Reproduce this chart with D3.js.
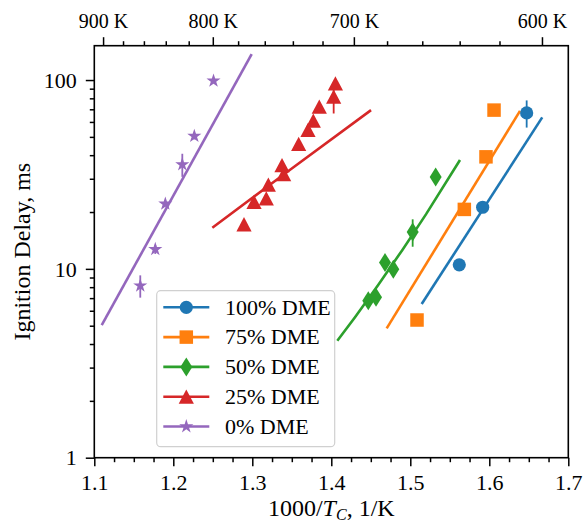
<!DOCTYPE html>
<html><head><meta charset="utf-8">
<script src="https://cdn.jsdelivr.net/npm/d3@7"></script>
<style>
body{margin:0;background:#fff}
text{font-family:"Liberation Serif","DejaVu Serif",serif;fill:#000}
</style>
</head><body>
<svg id="chart" width="583" height="527"></svg>
<script>
// ---------- data ----------
const seriesNames = ["100% DME", "75% DME", "50% DME", "25% DME", "0% DME"];
const seriesColors = ["#1f77b4", "#ff7f0e", "#2ca02c", "#d62728", "#9467bd"];
const seriesMarkers = ["circle", "square", "diamond", "triangle", "star"];

// measured ignition delays (x = 1000/Tc, y = ms, err = ms)
const dme100X = [1.5620, 1.5916, 1.6473];
const dme100Y = [10.5, 21.2, 67.0];
const dme100Err = [0, 0, 11];

const dme75X = [1.5085, 1.5684, 1.5958, 1.6060];
const dme75Y = [5.36, 20.65, 39.2, 69.3];
const dme75Err = [0, 0, 2, 2.5];

const dme50X = [1.4468, 1.4566, 1.4680, 1.4785, 1.5030, 1.5321];
const dme50Y = [6.78, 7.07, 10.8, 9.94, 15.7, 30.7];
const dme50Err = [0, 0, 0, 0, 2.6, 0];

const dme25X = [1.2895, 1.3022, 1.3177, 1.3203, 1.3376, 1.3397, 1.3587, 1.3705, 1.3772, 1.3848, 1.4030, 1.4052];
const dme25Y = [17.2, 22.6, 23.6, 27.9, 35.4, 31.7, 45.8, 54.3, 60.8, 72.1, 81.5, 95.9];
const dme25Err = [0, 0, 0, 0, 0, 0, 0, 0, 0, 0, 15, 0];

const dme0X = [1.1582, 1.1772, 1.1899, 1.2114, 1.2266, 1.2509];
const dme0Y = [8.14, 12.7, 22.1, 35.7, 50.5, 99.0];
const dme0Err = [1.1, 0.7, 0, 5, 2, 0];

// model predictions
const model100X = [1.5144, 1.6670];
const model100Y = [6.51, 63.4];
const model75X = [1.4701, 1.6389];
const model75Y = [4.84, 68.7];
const model50X = [1.4076, 1.43, 1.46, 1.49, 1.52, 1.5629];
const model50Y = [4.16, 5.55, 8.3, 12.6, 19.5, 37.7];
const model25X = [1.2494, 1.35, 1.4503];
const model25Y = [16.5, 34.0, 69.3];
const model0X = [1.1094, 1.2992];
const model0Y = [5.04, 137];

// axes ticks
const xTickValues = [1.1, 1.2, 1.3, 1.4, 1.5, 1.6, 1.7];
const yTickValues = [1, 10, 100];
const topMajorTemps = [900, 800, 700, 600];
const topMinorTemps = [880, 860, 840, 820, 780, 760, 740, 720, 680, 660, 640, 620];
const yLabel = "Ignition Delay, ms";

// ---------- layout ----------
const svg = d3.select("#chart");
const L = 94.3, R = 568.3, T = 45.7, B = 457.7;
const x = d3.scaleLinear().domain([1.1, 1.7]).range([L, R]);
const y = d3.scaleLog().domain([1, 152]).range([B, T]);
const tickFont = "22px", labelFont = "24px", topFont = "20px", legendFont = "22px";

const measured = [
  {x: dme100X, y: dme100Y, e: dme100Err},
  {x: dme75X, y: dme75Y, e: dme75Err},
  {x: dme50X, y: dme50Y, e: dme50Err},
  {x: dme25X, y: dme25Y, e: dme25Err},
  {x: dme0X, y: dme0Y, e: dme0Err}
];
const models = [
  {x: model100X, y: model100Y},
  {x: model75X, y: model75Y},
  {x: model50X, y: model50Y},
  {x: model25X, y: model25Y},
  {x: model0X, y: model0Y}
];

function markerPath(kind) {
  if (kind === "circle") return d3.symbol(d3.symbolCircle, Math.PI * 6.6 * 6.6)();
  if (kind === "square") return d3.symbol(d3.symbolSquare, 13.5 * 13.5)();
  if (kind === "star") return d3.symbol(d3.symbolStar, 62)();
  if (kind === "diamond") return "M0,-9.5L6,0L0,9.5L-6,0Z";
  if (kind === "triangle") return "M0,-7.3L7.6,7L-7.6,7Z";
}

const plot = svg.append("g");

// model lines
const line = d3.line().x(d => x(d[0])).y(d => y(d[1]));
models.forEach((m, i) => {
  plot.append("path")
    .datum(d3.zip(m.x, m.y))
    .attr("d", line)
    .attr("fill", "none")
    .attr("stroke", seriesColors[i])
    .attr("stroke-width", 2.6);
});

// error bars + markers
measured.forEach((s, i) => {
  const pts = d3.zip(s.x, s.y, s.e);
  plot.append("g").selectAll("line").data(pts.filter(p => p[2] > 0)).join("line")
    .attr("x1", d => x(d[0])).attr("x2", d => x(d[0]))
    .attr("y1", d => y(d[1] + d[2])).attr("y2", d => y(d[1] - d[2]))
    .attr("stroke", seriesColors[i]).attr("stroke-width", 1.8);
  plot.append("g").selectAll("path").data(pts).join("path")
    .attr("transform", d => `translate(${x(d[0])},${y(d[1])})`)
    .attr("d", markerPath(seriesMarkers[i]))
    .attr("fill", seriesColors[i]);
});

// ---------- axes ----------
const axisG = svg.append("g");
function styleAxis(size) {
  return g => {
    g.select(".domain").remove();
    g.selectAll("line").attr("stroke", "#000").attr("stroke-width", 1.5);
    g.selectAll("text").attr("font-size", size).attr("fill", "#000")
      .style("font-family", '"Liberation Serif", serif');
  };
}
// bottom
const xMinor = d3.range(1.1, 1.7001, 0.025).filter(v => Math.abs(v * 10 - Math.round(v * 10)) > 1e-6);
axisG.append("g").attr("transform", `translate(0,${B})`)
  .call(d3.axisBottom(x).tickValues(xMinor).tickSize(4.5).tickFormat(""))
  .call(styleAxis(tickFont));
axisG.append("g").attr("transform", `translate(0,${B})`)
  .call(d3.axisBottom(x).tickValues(xTickValues).tickSize(8.5).tickPadding(5).tickFormat(d3.format(".1f")))
  .call(styleAxis(tickFont))
  .call(g => g.selectAll("text").attr("dy", "0.85em"));
// left
const yMinor = [];
[1, 10, 100].forEach(dec => { for (let k = 2; k <= 9; k++) { const v = dec * k; if (v <= 152) yMinor.push(v); } });
axisG.append("g").attr("transform", `translate(${L},0)`)
  .call(d3.axisLeft(y).tickValues(yMinor).tickSize(4.5).tickFormat(""))
  .call(styleAxis(tickFont));
axisG.append("g").attr("transform", `translate(${L},0)`)
  .call(d3.axisLeft(y).tickValues(yTickValues).tickSize(8.5).tickPadding(9).tickFormat(d3.format("d")))
  .call(styleAxis(tickFont))
  .call(g => g.selectAll("text").attr("dy", "0.33em"));
// top (temperature)
axisG.append("g").attr("transform", `translate(0,${T})`)
  .call(d3.axisTop(x).tickValues(topMinorTemps.map(t => 1000 / t)).tickSize(4.5).tickFormat(""))
  .call(styleAxis(topFont));
axisG.append("g").attr("transform", `translate(0,${T})`)
  .call(d3.axisTop(x).tickValues(topMajorTemps.map(t => 1000 / t)).tickSize(8.5).tickPadding(9)
    .tickFormat(v => `${Math.round(1000 / v)} K`))
  .call(styleAxis(topFont))
  .call(g => g.selectAll("text").attr("dy", "0"));

// frame
svg.append("rect").attr("x", L).attr("y", T).attr("width", R - L).attr("height", B - T)
  .attr("fill", "none").attr("stroke", "#000").attr("stroke-width", 1.6);

// axis labels
const xl = svg.append("text").attr("x", (L + R) / 2).attr("y", 516)
  .attr("text-anchor", "middle").attr("font-size", labelFont);
xl.append("tspan").text("1000/");
xl.append("tspan").attr("font-style", "italic").text("T");
xl.append("tspan").attr("font-style", "italic").attr("font-size", "16px").attr("dy", "4").text("C");
xl.append("tspan").attr("dy", "-4").text(", 1/K");

svg.append("text").attr("transform", `translate(30,${(T + B) / 2}) rotate(-90)`)
  .attr("text-anchor", "middle").attr("font-size", labelFont).text(yLabel);

// ---------- legend ----------
const lg = svg.append("g");
lg.append("rect").attr("x", 156.7).attr("y", 290.7).attr("width", 178).attr("height", 156)
  .attr("rx", 4).attr("fill", "#fff").attr("fill-opacity", 0.8)
  .attr("stroke", "#d0d0d0").attr("stroke-width", 1.2);
seriesNames.forEach((name, i) => {
  const cy = 307.3 + i * 29.8;
  lg.append("line").attr("x1", 163.3).attr("x2", 209.3).attr("y1", cy).attr("y2", cy)
    .attr("stroke", seriesColors[i]).attr("stroke-width", 2.6);
  lg.append("path").attr("transform", `translate(186.3,${cy})`)
    .attr("d", markerPath(seriesMarkers[i])).attr("fill", seriesColors[i]);
  lg.append("text").attr("x", 225).attr("y", cy).attr("dy", "0.33em")
    .attr("font-size", legendFont).text(name);
});
</script>
</body></html>
